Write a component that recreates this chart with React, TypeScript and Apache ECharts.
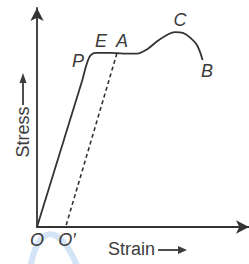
import React, { useEffect, useRef } from "react";
import * as echarts from "echarts";

// Elastic (straight) part O -> P, arbitrary units: strain 0..10, stress 0..10
const elasticStrain = [0, 2.14];
const elasticStress = [0, 6.71];
// Plastic part P -> E -> A -> C -> B
const plasticStrain = [2.14, 2.33, 2.47, 2.6, 2.79, 3.4, 4.09, 4.72, 5.2, 5.7, 6.19, 6.51, 6.88, 7.21, 7.55, 7.81];
const plasticStress = [6.71, 7.4, 7.76, 7.9, 7.95, 7.95, 7.92, 7.92, 8.12, 8.5, 8.8, 8.9, 8.86, 8.66, 8.3, 7.63];
// Unloading line from A to O'
const unloadStrain = [3.77, 1.35];
const unloadStress = [7.93, 0];

const INK = "#333";
const TXT = "#3c3c3c";
const FONT = "Liberation Sans, Arial, sans-serif";

export default function App() {
  const ref = useRef<HTMLDivElement>(null);
  useEffect(() => {
    if (!ref.current) return;
    const chart = echarts.init(ref.current, undefined, { renderer: "svg" });
    const lbl = (text: string, x: number, y: number) => ({
      type: "text",
      x,
      y,
      style: {
        text,
        fill: TXT,
        font: `italic 18px ${FONT}`,
        align: "center",
        verticalAlign: "middle",
      },
    });
    const axis = {
      type: "value",
      min: 0,
      max: 10,
      axisLine: { show: true, symbol: ["none", "arrow"], symbolSize: [10, 13], lineStyle: { color: INK, width: 1.8 } },
      axisTick: { show: false },
      axisLabel: { show: false },
      splitLine: { show: false },
    };
    chart.setOption({
      animation: false,
      grid: { left: 37, right: -3, top: 8, bottom: 37 },
      xAxis: axis,
      yAxis: axis,
      series: [
        {
          type: "line",
          data: elasticStrain.map((x, i) => [x, elasticStress[i]]),
          showSymbol: false,
          lineStyle: { color: INK, width: 1.8 },
        },
        {
          type: "line",
          data: plasticStrain.map((x, i) => [x, plasticStress[i]]),
          smooth: 0.35,
          showSymbol: false,
          lineStyle: { color: INK, width: 1.8 },
        },
        {
          type: "line",
          data: unloadStrain.map((x, i) => [x, unloadStress[i]]),
          showSymbol: false,
          lineStyle: { color: INK, width: 1.6, type: [4, 3] },
        },
      ],
      graphic: [
        {
          type: "bezierCurve",
          shape: { x1: 30, y1: 268, cpx1: 38, cpy1: 226, cpx2: 58, cpy2: 220, x2: 78, y2: 268 },
          style: { stroke: "#d3e4f6", lineWidth: 6, fill: "none" },
          z: -1,
        },
        lbl("P", 78, 61),
        lbl("E", 101, 41),
        lbl("A", 122, 41),
        lbl("C", 180, 20),
        lbl("B", 207, 71),
        lbl("O", 37, 240),
        lbl("O′", 67, 240),
        {
          type: "text",
          x: 108,
          y: 249,
          style: { text: "Strain", fill: TXT, font: `18px ${FONT}`, align: "left", verticalAlign: "middle" },
        },
        { type: "line", shape: { x1: 158, y1: 250, x2: 180, y2: 250 }, style: { stroke: TXT, lineWidth: 1.8 } },
        { type: "polygon", shape: { points: [[187, 250], [178, 246], [178, 254]] }, style: { fill: TXT } },
        {
          type: "text",
          x: 23,
          y: 132,
          rotation: Math.PI / 2,
          style: { text: "Stress", fill: TXT, font: `18px ${FONT}`, align: "center", verticalAlign: "middle" },
        },
        { type: "line", shape: { x1: 23, y1: 105, x2: 23, y2: 82 }, style: { stroke: TXT, lineWidth: 1.8 } },
        { type: "polygon", shape: { points: [[23, 73], [19.5, 83], [26.5, 83]] }, style: { fill: TXT } },
      ],
    });
    return () => chart.dispose();
  }, []);
  return (
    <div
      ref={ref}
      style={{ position: "fixed", left: 0, top: 0, width: 249, height: 264, background: "#fff" }}
    />
  );
}
